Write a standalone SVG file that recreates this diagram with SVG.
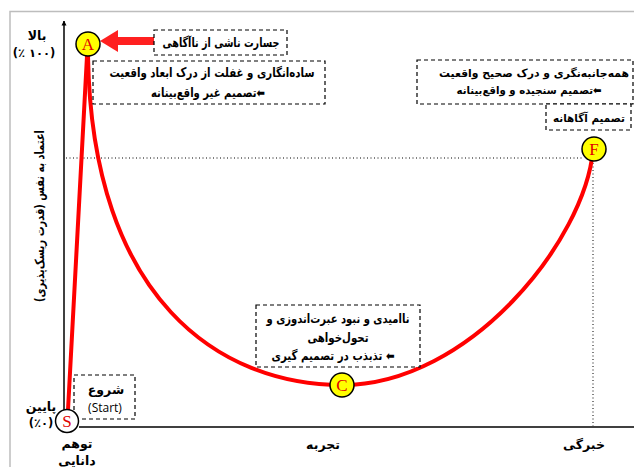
<svg xmlns="http://www.w3.org/2000/svg" width="634" height="467" viewBox="0 0 634 467">
<style>
.fa{font-family:"DejaVu Sans",sans-serif;font-weight:bold;font-size:12.5px;fill:#000;direction:rtl;text-anchor:middle}
.sm{font-size:11px}
.num{font-family:"DejaVu Sans",sans-serif;font-weight:bold;font-size:11.5px;text-anchor:middle}
.box{fill:#fff;stroke:#000;stroke-width:1.2;stroke-dasharray:4 3}
.node{stroke:#000;stroke-width:1.5}
.lt{font-family:"Liberation Serif",serif;font-size:17px;fill:#e00000;text-anchor:middle}
.curve{fill:none;stroke:#ff0000;stroke-width:4;stroke-linecap:round}
.dot{stroke:#000;stroke-width:1;stroke-dasharray:1 2.5;fill:none}
</style>
<defs>
<marker id="ax" viewBox="0 0 10 10" refX="9" refY="5" markerWidth="5" markerHeight="6" orient="auto" markerUnits="userSpaceOnUse"><path d="M0,0 L10,5 L0,10 z" fill="#000"/></marker>
</defs>
<rect width="634" height="467" fill="#fff"/>
<g id="frame" fill="none" stroke="#bdbdbd" stroke-width="1.5">
<path d="M10,467 V11.5 H634"/>
</g>
<g id="axes">
<line x1="64" y1="410" x2="64" y2="21" stroke="#000" stroke-width="1.5" marker-end="url(#ax)"/>
<line x1="79" y1="427" x2="634" y2="427" stroke="#000" stroke-width="1.5"/>
<text class="fa" transform="translate(44,216) rotate(-90)" textLength="172" lengthAdjust="spacingAndGlyphs">اعتماد به نفس (قدرت ریسک‌پذیری)</text>
<text class="fa" x="37" y="40">بالا</text>
<text class="num" x="34" y="57">(٪ ۱۰۰)</text>
<text class="fa" x="41" y="411">پایین</text>
<text class="num" x="41" y="427">(٪۰)</text>
<text class="fa" x="77" y="448">توهم</text>
<text class="fa" x="77" y="465">دانایی</text>
<text class="fa" x="323" y="449">تجربه</text>
<text class="fa" x="584" y="449">خبرگی</text>
</g>
<g id="connectors">
<path class="dot" d="M66,158 H582"/>
<path class="dot" d="M593,163 V426"/>
<path class="curve" d="M68,410 L87,56"/>
<path class="curve" d="M88,56 C92,300 220,385 342,385 C470,385 585,240 593,150"/>
<line x1="114" y1="41" x2="154" y2="41" stroke="#ff2020" stroke-width="8"/>
<polygon points="100,41 118,30 118,52" fill="#ff2020"/>
</g>
<g id="box-naagahi">
<rect class="box" x="154" y="30" width="133" height="25"/>
<text class="fa" x="221" y="47" textLength="117" lengthAdjust="spacingAndGlyphs">جسارت ناشی از ناآگاهی</text>
</g>
<g id="box-sadeh">
<rect class="box" x="93" y="61" width="232" height="43"/>
<text class="fa" x="212" y="77" textLength="205" lengthAdjust="spacingAndGlyphs">ساده‌انگاری و غفلت از درک ابعاد واقعیت</text>
<text class="fa" x="208" y="97" textLength="114" lengthAdjust="spacingAndGlyphs">⬅تصمیم غیر واقع‌بینانه</text>
</g>
<g id="box-hamejanebe">
<rect class="box" x="417" y="60" width="216" height="44"/>
<text class="fa sm" x="534" y="77" textLength="190" lengthAdjust="spacingAndGlyphs">همه‌جانبه‌نگری و درک صحیح واقعیت</text>
<text class="fa sm" x="529" y="94" textLength="145" lengthAdjust="spacingAndGlyphs">⬅تصمیم سنجیده و واقع‌بینانه</text>
</g>
<g id="box-agahane">
<rect class="box" x="546" y="104" width="85" height="26"/>
<text class="fa sm" x="589" y="122" textLength="72" lengthAdjust="spacingAndGlyphs">تصمیم آگاهانه</text>
</g>
<g id="box-naomidi">
<rect class="box" x="256" y="305" width="164" height="62"/>
<text class="fa" x="338" y="323" textLength="143" lengthAdjust="spacingAndGlyphs">ناامیدی و نبود عبرت‌اندوزی و</text>
<text class="fa" x="338" y="342" textLength="61" lengthAdjust="spacingAndGlyphs">تحول‌خواهی</text>
<text class="fa" x="333" y="360" textLength="123" lengthAdjust="spacingAndGlyphs">⬅ تذبذب در تصمیم گیری</text>
</g>
<g id="box-start">
<rect class="box" x="74" y="375" width="61" height="44"/>
<text class="fa" x="106" y="394">شروع</text>
<text x="105" y="412" font-family="Open Sans,sans-serif" font-size="12" text-anchor="middle">(Start)</text>
</g>
<g id="node-S">
<circle class="node" cx="67" cy="421" r="11.5" fill="#fff"/>
<text class="lt" x="67" y="427">S</text>
</g>
<g id="node-A">
<circle class="node" cx="88" cy="44" r="12" fill="#ffff00"/>
<text class="lt" x="88" y="50">A</text>
</g>
<g id="node-C">
<circle class="node" cx="342" cy="385" r="12" fill="#ffff00"/>
<text class="lt" x="342" y="391">C</text>
</g>
<g id="node-F">
<circle class="node" cx="594" cy="149" r="12" fill="#ffff00"/>
<text class="lt" x="594" y="155">F</text>
</g>
</svg>
